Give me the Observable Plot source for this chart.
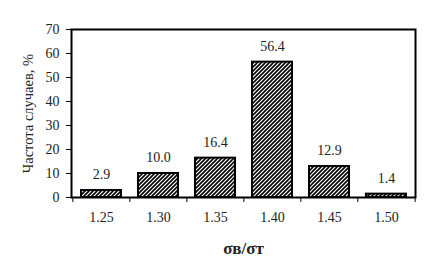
<!DOCTYPE html>
<html>
<head>
<meta charset="utf-8">
<script src="https://cdn.jsdelivr.net/npm/d3@7"></script>
<script src="https://cdn.jsdelivr.net/npm/@observablehq/plot@0.6"></script>
<style>
  html, body { margin: 0; padding: 0; background: #fff; }
</style>
</head>
<body>
<div id="chart"></div>
<script>
const categories = ["1.25", "1.30", "1.35", "1.40", "1.45", "1.50"];
const values = [2.9, 10.0, 16.4, 56.4, 12.9, 1.4];
const yTicks = [0, 10, 20, 30, 40, 50, 60, 70];
const yLabel = "Частота случаев, %";
const xTitle = "σв/σт";

const data = categories.map((c, i) => ({cat: c, val: values[i]}));

const W = 430, H = 278;
const mL = 71, mR = 15, mT = 29, mB = 81;
const step = (W - mL - mR) / categories.length;

function hatchDefs() {
  const ns = "http://www.w3.org/2000/svg";
  const defs = document.createElementNS(ns, "defs");
  const pat = document.createElementNS(ns, "pattern");
  pat.setAttribute("id", "hatch");
  pat.setAttribute("patternUnits", "userSpaceOnUse");
  pat.setAttribute("width", "4");
  pat.setAttribute("height", "4");
  const bg = document.createElementNS(ns, "rect");
  bg.setAttribute("width", "4");
  bg.setAttribute("height", "4");
  bg.setAttribute("fill", "white");
  pat.appendChild(bg);
  const p = document.createElementNS(ns, "path");
  p.setAttribute("d", "M-1,1 L1,-1 M0,4 L4,0 M3,5 L5,3");
  p.setAttribute("stroke", "black");
  p.setAttribute("stroke-width", "1.6");
  pat.appendChild(p);
  defs.appendChild(pat);
  return defs;
}

const chart = Plot.plot({
  width: W,
  height: H,
  marginLeft: mL,
  marginRight: mR,
  marginTop: mT,
  marginBottom: mB,
  style: {fontFamily: "'Liberation Serif', 'Times New Roman', serif", fontSize: "14px", color: "#222", background: "white"},
  x: {domain: categories, paddingInner: 0.3, paddingOuter: 0.15},
  y: {domain: [0, 70]},
  marks: [
    hatchDefs,
    Plot.barY(data, {x: "cat", y: "val", fill: "url(#hatch)", stroke: "black", strokeWidth: 2}),
    Plot.text(data, {x: "cat", y: "val", text: d => d.val.toFixed(1), dy: -16, fill: "#222"}),
    Plot.axisY({ticks: yTicks, tickSize: 5, tickPadding: 7, label: null, stroke: "black"}),
    Plot.axisX({tickSize: 0, tickPadding: 15, label: null}),
    Plot.axisX({ticks: categories, tickSize: 5, text: null, label: null, dx: -step / 2, stroke: "black"}),
    Plot.axisX({ticks: categories.slice(-1), tickSize: 5, text: null, label: null, dx: step / 2, stroke: "black"}),
    Plot.frame({stroke: "black", strokeWidth: 2}),
    Plot.text([yLabel], {text: d => d, frameAnchor: "left", textAnchor: "middle", rotate: -90, dx: -43, fontSize: 14.5, fill: "#222"}),
    Plot.text([xTitle], {text: d => d, frameAnchor: "bottom", dy: 56, fontSize: 17, fontWeight: "bold", fill: "#222"})
  ]
});
document.getElementById("chart").appendChild(chart);
</script>
</body>
</html>
